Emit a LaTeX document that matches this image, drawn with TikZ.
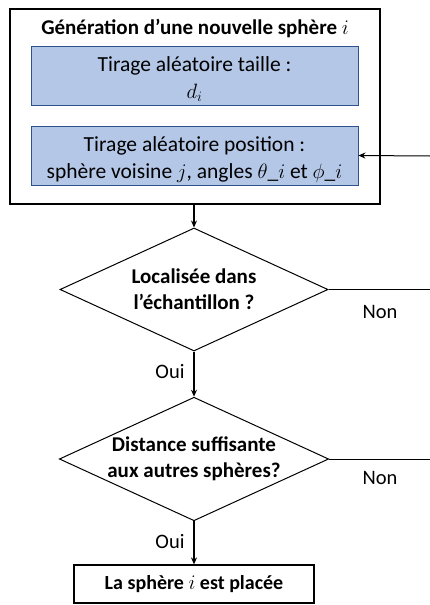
\documentclass[tikz,border=0pt]{standalone}
\usepackage{fontspec}
\setmainfont{Carlito}
\usetikzlibrary{shapes.geometric,arrows.meta}
\definecolor{boxblue}{HTML}{B4C7E7}
\definecolor{edgeblue}{HTML}{2F528F}
\tikzset{
  bluebox/.style={draw=edgeblue, fill=boxblue, line width=0.8pt, inner sep=0pt, minimum width=327pt, minimum height=59pt},
  bluetext/.style={inner sep=0pt, align=center, font=\fontsize{21.5}{27.5}\selectfont},
  outerbox/.style={draw=black, line width=1.4pt, inner sep=0pt, minimum width=370pt, minimum height=195pt},
  decision/.style={diamond, aspect=2.18, draw=black, line width=1pt, inner sep=0pt, minimum width=268pt, minimum height=123pt, align=center, font=\bfseries\fontsize{21}{26}\selectfont},
  endbox/.style={draw=black, line width=1.2pt, inner sep=0pt, minimum width=240pt, minimum height=38pt, font=\bfseries\fontsize{20}{24}\selectfont},
  conn/.style={line width=1.6pt, -{Stealth[length=7pt,width=6pt]}},
  plain/.style={line width=1pt},
  lbl/.style={font=\fontsize{20.5}{24}\selectfont}
}
\begin{document}
\begin{tikzpicture}[x=1pt,y=-1pt]
\useasboundingbox (0,0) rectangle (430,605);
\node[outerbox] (outer) at (195,106.5) {};
\node[font=\bfseries\fontsize{21}{24}\selectfont] (title) at (195,28.5) {Génération d’une nouvelle sphère $i$};
\node[bluebox] (taille) at (194.5,75.5) {};
\node[bluetext] (tailletxt) at (194.5,79) {Tirage aléatoire taille :\\ $d_i$};
\node[bluebox] (pos) at (194.5,155.5) {};
\node[bluetext] (postxt) at (194.5,159.5) {Tirage aléatoire position :\\ sphère voisine $j$, angles $\theta$\_$i$ et $\phi$\_$i$};
\node[decision] (loc) at (194,289.5) {Localisée dans\\ l’échantillon ?};
\node[decision] (dist) at (194,459) {Distance suffisante\\ aux autres sphères?};
\node[endbox] (fin) at (194,584) {La sphère $i$ est placée};
\coordinate (r1) at (430,289.5);
\coordinate (r2) at (430,459);
\coordinate (rin) at (430,156);
\draw[conn] (outer.south -| loc.north) -- (loc.north);
\draw[conn] (loc.south) -- (dist.north);
\draw[conn] (dist.south) -- (fin.north);
\draw[plain] (loc.east) -- (r1);
\draw[plain] (dist.east) -- (r2);
\draw[line width=1pt, -{Stealth[length=7pt,width=6pt]}] (rin) -- (pos.east);
\node[lbl] (non1) at (380,312) {Non};
\node[lbl] (non2) at (380,478) {Non};
\node[lbl] (oui1) at (170,372) {Oui};
\node[lbl] (oui2) at (170,542) {Oui};
\end{tikzpicture}
\end{document}
